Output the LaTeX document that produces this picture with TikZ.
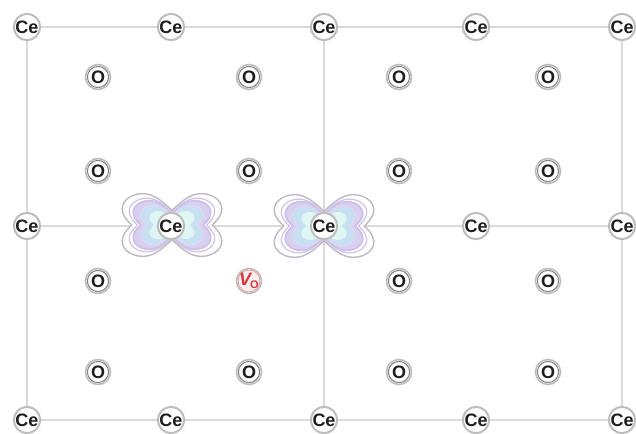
\documentclass[tikz,border=0pt]{standalone}
\usepackage{fontspec}
\setmainfont{Liberation Sans}
\usetikzlibrary{backgrounds}
\definecolor{ring}{HTML}{BCBCBC}
\definecolor{ringin}{HTML}{555555}
\definecolor{gridc}{HTML}{DADADA}
\definecolor{txt}{HTML}{1E1E1E}
\definecolor{lobeA}{HTML}{BDB9C4}
\definecolor{lobeB}{HTML}{CFC4E6}
\definecolor{lobeC}{HTML}{CDC0EA}
\definecolor{lobeD}{HTML}{C6E0F2}
\definecolor{lobeE}{HTML}{DFF6F3}
\definecolor{vred}{HTML}{D8343C}
\tikzset{
  atomce/.style={circle,draw=ring,line width=2pt,fill=white,minimum size=25pt,inner sep=0pt,
    text=txt,font=\fontsize{18}{18}\selectfont\bfseries},
  atomo/.style={circle,draw=ring,line width=1.6pt,fill=white,minimum size=25pt,inner sep=0pt,
    text=txt,font=\fontsize{18}{18}\selectfont\bfseries,
    path picture={\draw[ringin!75,line width=1pt] (path picture bounding box.center) circle (10.6pt);}},
  atomv/.style={circle,draw=ring,line width=1.6pt,fill=white,minimum size=25pt,inner sep=0pt,
    text=vred,font=\fontsize{18}{18}\selectfont\bfseries\itshape,
    path picture={\fill[vred!8] (path picture bounding box.center) circle (11pt);
      \draw[vred!55,line width=0.7pt] (path picture bounding box.center) circle (11pt);}},
  gridline/.style={gridc,line width=1.6pt},
}
% one butterfly contour: centre, scale, draw colour, fill colour, width
\newcommand{\contour}[5]{%
  \begin{scope}[shift={(#1)},xscale=#2,yscale=#2]
    \path[draw=#3,fill=#4,line width=#5,line join=round]
      (0,-15) .. controls (10,-24) and (18,-32) .. (30,-32)
      .. controls (44,-32) and (54,-22) .. (50,-12)
      .. controls (48,-6) and (44,-3) .. (41,0)
      .. controls (44,3) and (48,6) .. (50,12)
      .. controls (54,22) and (44,32) .. (30,32)
      .. controls (18,32) and (10,24) .. (0,15)
      .. controls (-10,24) and (-18,32) .. (-30,32)
      .. controls (-44,32) and (-54,22) .. (-50,12)
      .. controls (-48,6) and (-44,3) .. (-41,0)
      .. controls (-44,-3) and (-48,-6) .. (-50,-12)
      .. controls (-54,-22) and (-44,-32) .. (-30,-32)
      .. controls (-18,-32) and (-10,-24) .. (0,-15) -- cycle;
  \end{scope}}
\newcommand{\butterfly}[1]{%
  \contour{#1}{0.98}{lobeA}{white}{1.4pt}%
  \contour{#1}{0.84}{lobeB}{white}{1.2pt}%
  \contour{#1}{0.76}{lobeC}{lobeC!75}{1.8pt}%
  \contour{#1}{0.62}{lobeC!60}{lobeD}{1pt}%
  \contour{#1}{0.46}{lobeD}{lobeE}{1pt}}
\begin{document}
\begin{tikzpicture}[x=1pt,y=-1pt]
  \useasboundingbox (0,0) rectangle (636,433);
  % Ce atoms
  \foreach \n/\x in {1/27,2/171,3/324,4/476,5/622}{
    \node[atomce] (t\n) at (\x,27) {Ce};
    \node[atomce] (m\n) at (\x,226) {Ce};
    \node[atomce] (b\n) at (\x,420) {Ce};
  }
  % O atoms
  \foreach \n/\x in {1/98,2/249,3/399,4/548}
    \foreach \r/\y in {a/77,b/171,c/281,d/372}{
      \ifnum\n=2 \if\r c\else\node[atomo] (o\r\n) at (\x,\y) {O};\fi
      \else\node[atomo] (o\r\n) at (\x,\y) {O};\fi
    }
  % vacancy
  \node[atomv] (vo) at (249,281) {V\kern-1pt\raisebox{-3pt}{\fontsize{11}{11}\selectfont\upshape O}};
  \begin{scope}[on background layer]
    \foreach \r in {t,m,b}
      \foreach \a/\b in {1/2,2/3,3/4,4/5}
        \draw[gridline] (\r\a) -- (\r\b);
    \foreach \c in {1,3,5}{
      \draw[gridline] (t\c) -- (m\c);
      \draw[gridline] (m\c) -- (b\c);
    }
    \butterfly{172,225}
    \butterfly{324,226}
  \end{scope}
\end{tikzpicture}
\end{document}
